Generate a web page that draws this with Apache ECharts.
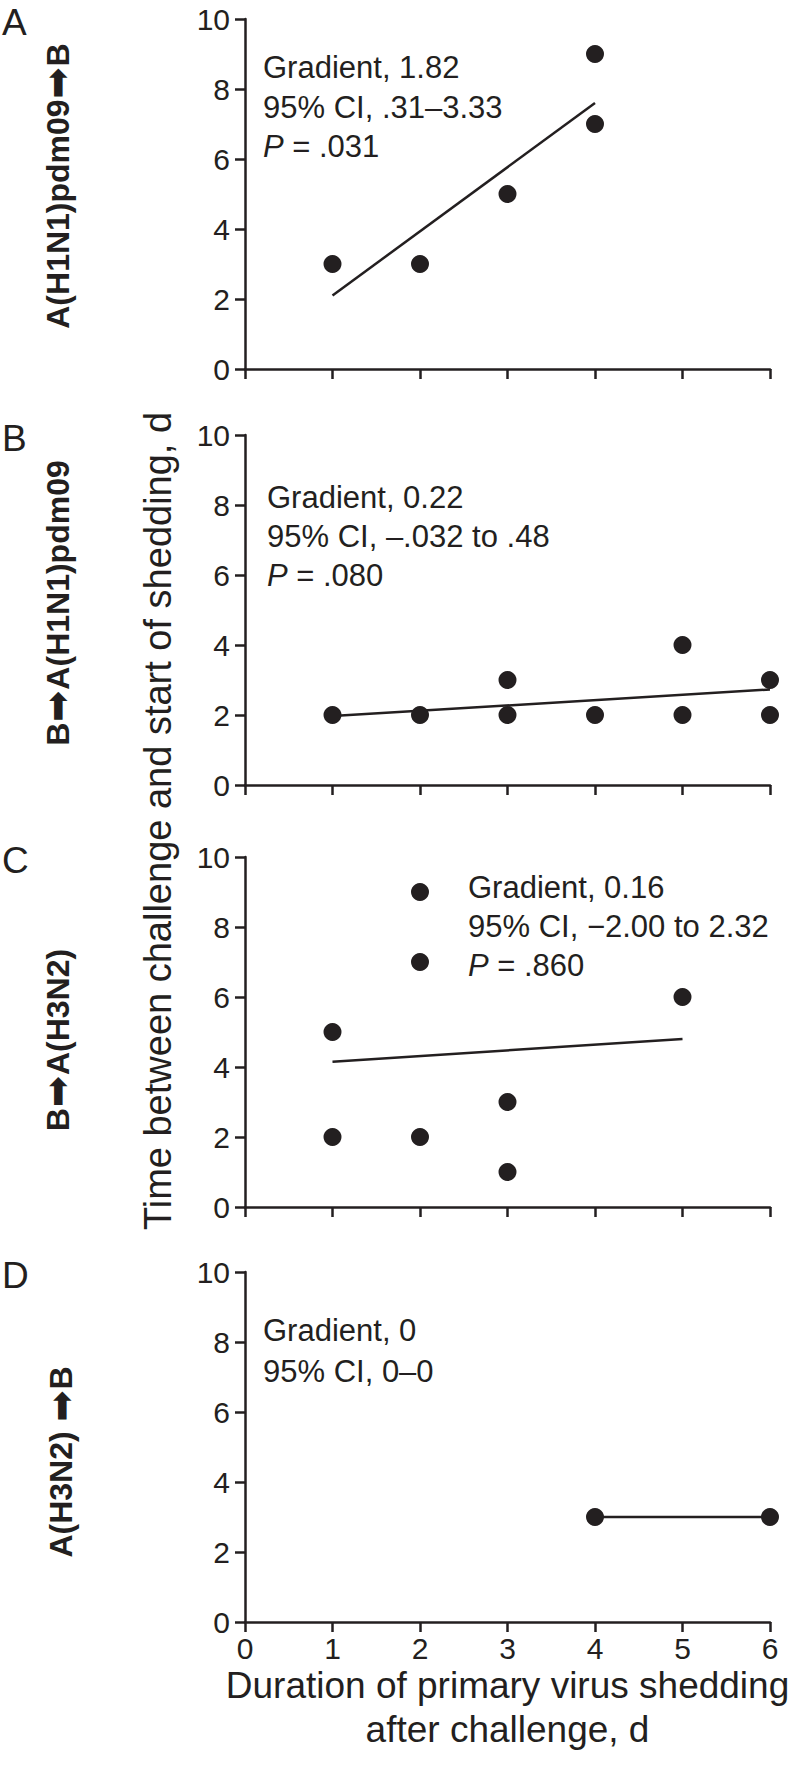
<!DOCTYPE html>
<html>
<head>
<meta charset="utf-8">
<script src="https://cdn.jsdelivr.net/npm/echarts@6/dist/echarts.min.js"></script>
<style>
html,body{margin:0;padding:0;background:#fff;}
#chart{width:797px;height:1775px;}
</style>
</head>
<body>
<div id="chart"></div>
<script>
// ---------- data ----------
const panelLetters = ['A', 'B', 'C', 'D'];
// row labels: [before arrow, after arrow]
const rowLabels = [['A(H1N1)pdm09', 'B'], ['B', 'A(H1N1)pdm09'], ['B', 'A(H3N2)'], ['A(H3N2) ', 'B']];
const arrowChar = '\u27A1';
const yTitle = 'Time between challenge and start of shedding, d';
const xTitle = 'Duration of primary virus shedding\nafter challenge, d';

const pointsA = [[1, 3], [2, 3], [3, 5], [4, 9], [4, 7]];
const fitA = [[1, 2.1], [4, 7.6]];
const pointsB = [[1, 2], [2, 2], [3, 3], [3, 2], [4, 2], [5, 4], [5, 2], [6, 3], [6, 2]];
const fitB = [[1, 1.97], [6, 2.73]];
const pointsC = [[1, 5], [1, 2], [2, 9], [2, 7], [2, 2], [3, 3], [3, 1], [5, 6]];
const fitC = [[1, 4.15], [5, 4.8]];
const pointsD = [[4, 3], [6, 3]];
const fitD = [[4, 3], [6, 3]];

const statsA = ['Gradient, 1.82', '95% CI, .31\u20133.33', '.031'];
const statsB = ['Gradient, 0.22', '95% CI, \u2013.032 to .48', '.080'];
const statsC = ['Gradient, 0.16', '95% CI, \u22122.00 to 2.32', '.860'];
const statsD = ['Gradient, 0', '95% CI, 0\u20130'];

const xMin = 0, xMax = 6, xStep = 1;
const yMin = 0, yMax = 10, yStep = 2;

// ---------- layout / style ----------
const FONT = "'Liberation Sans', Arial, Helvetica, sans-serif";
const INK = '#231f20';
const gridTops = [19, 435, 857, 1272];
const gridH = 350;
const gridLeft = 245, gridW = 525;
const allPoints = [pointsA, pointsB, pointsC, pointsD];
const allFits = [fitA, fitB, fitC, fitD];
const allStats = [statsA, statsB, statsC, statsD];
const statPos = [[263, [67, 107, 146]], [267, [497, 536, 575]], [468, [887, 926, 965]], [263, [1330, 1371]]];
const rowLabelPos = [[57.5, 186], [57.5, 603], [57.5, 1040], [61, 1462]];

const chart = echarts.init(document.getElementById('chart'), null, {renderer: 'svg'});

const grids = [], xAxes = [], yAxes = [], series = [], graphics = [];
for (let i = 0; i < 4; i++) {
  grids.push({left: gridLeft, top: gridTops[i], width: gridW, height: gridH, containLabel: false});
  const last = i === 3;
  xAxes.push({
    type: 'value', gridIndex: i, min: xMin, max: xMax, interval: xStep,
    axisLine: {show: true, onZero: false, lineStyle: {color: INK, width: 2.5}},
    axisTick: {show: true, inside: false, length: 10, lineStyle: {color: INK, width: 2.5}},
    splitLine: {show: false},
    axisLabel: {show: last, fontFamily: FONT, fontSize: 30, color: INK, margin: 11},
    name: last ? xTitle : '',
    nameLocation: 'middle', nameGap: 28,
    nameTextStyle: {fontFamily: FONT, fontSize: 37, color: INK, lineHeight: 44}
  });
  yAxes.push({
    type: 'value', gridIndex: i, min: yMin, max: yMax, interval: yStep,
    axisLine: {show: true, onZero: false, lineStyle: {color: INK, width: 2.5}},
    axisTick: {show: true, inside: false, length: 10, lineStyle: {color: INK, width: 2.5}},
    splitLine: {show: false},
    axisLabel: {fontFamily: FONT, fontSize: 30, color: INK, margin: 15}
  });
  series.push({
    type: 'line', xAxisIndex: i, yAxisIndex: i, data: allFits[i],
    showSymbol: false, symbol: 'none', silent: true, z: 2,
    lineStyle: {color: INK, width: 2.5}
  });
  series.push({
    type: 'scatter', xAxisIndex: i, yAxisIndex: i, data: allPoints[i],
    symbol: 'circle', symbolSize: 18, z: 3,
    itemStyle: {color: INK, opacity: 1}
  });
  // panel letter
  graphics.push({
    type: 'text', x: 2, y: gridTops[i] + 3,
    style: {text: panelLetters[i], fontFamily: FONT, fontSize: 37, fill: INK,
            textAlign: 'left', textVerticalAlign: 'middle'}
  });
  // row label (rotated, bold) with heavy arrow
  graphics.push({
    type: 'text', x: rowLabelPos[i][0], y: rowLabelPos[i][1], rotation: Math.PI / 2,
    style: {
      text: '{t|' + rowLabels[i][0] + '}{a|' + arrowChar + '}{t|' + rowLabels[i][1] + '}',
      fontFamily: FONT, fontSize: 32, fontWeight: 'bold', fill: INK,
      textAlign: 'center', textVerticalAlign: 'middle',
      rich: {
        t: {fontFamily: FONT, fontSize: 32, fontWeight: 'bold', fill: INK, color: INK},
        a: {fontFamily: "'DejaVu Sans'", fontSize: 37, fontWeight: 'normal', fill: INK, color: INK, padding: [0, 1, 0, 1]}
      }
    }
  });
  // statistics
  const st = allStats[i];
  for (let k = 0; k < st.length; k++) {
    const isP = k === 2;
    graphics.push({
      type: 'text', x: statPos[i][0], y: statPos[i][1][k],
      style: isP ? {
        text: '{i|P} = ' + st[k],
        fontFamily: FONT, fontSize: 31, fill: INK, textAlign: 'left', textVerticalAlign: 'middle',
        rich: {i: {fontStyle: 'italic', fontFamily: FONT, fontSize: 31, fill: INK, color: INK}}
      } : {
        text: st[k], fontFamily: FONT, fontSize: 31, fill: INK,
        textAlign: 'left', textVerticalAlign: 'middle'
      }
    });
  }
}
// shared y title
graphics.push({
  type: 'text', x: 158, y: 821, rotation: Math.PI / 2,
  style: {text: yTitle, fontFamily: FONT, fontSize: 38, fill: INK,
          textAlign: 'center', textVerticalAlign: 'middle'}
});

chart.setOption({
  backgroundColor: '#ffffff',
  animation: false,
  grid: grids,
  xAxis: xAxes,
  yAxis: yAxes,
  series: series,
  graphic: graphics
});
</script>
</body>
</html>
